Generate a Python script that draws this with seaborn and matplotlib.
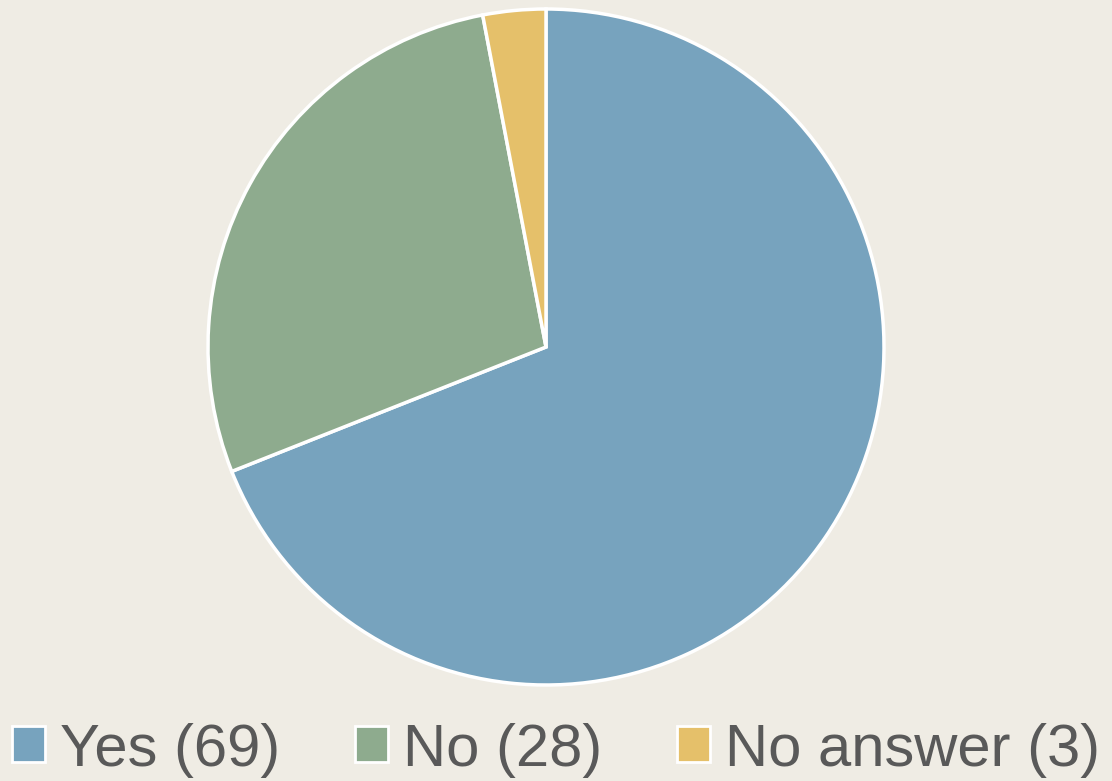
import matplotlib
matplotlib.use("Agg")
import matplotlib.pyplot as plt
from matplotlib.patches import Patch
import seaborn as sns

labels = ["Yes", "No", "No answer"]
counts = [69, 28, 3]
colors = ["#77a3be", "#8eab8e", "#e5c06a"]
bg = "#efece4"

sns.set_theme(style="white")
plt.rcParams['font.family'] = ['Liberation Sans', 'DejaVu Sans']

fig = plt.figure(figsize=(11.12, 7.81), dpi=100, facecolor=bg)
ax = fig.add_axes([(546 - 338) / 1112, (781 - 347 - 338) / 781, 676 / 1112, 676 / 781])
ax.set_facecolor(bg)

ax.pie(counts, colors=colors, startangle=90, counterclock=False,
       wedgeprops=dict(edgecolor="white", linewidth=2.5))
ax.set_xlim(-1, 1)
ax.set_ylim(-1, 1)
ax.set_aspect("equal")

handles = [Patch(facecolor=c, edgecolor="white", linewidth=2) for c in colors]
leg_labels = [f"{l} ({n})" for l, n in zip(labels, counts)]
fig.legend(handles, leg_labels, loc="center", bbox_to_anchor=(0.5, 1 - 750 / 781),
           ncol=3, frameon=False, fontsize=43, labelcolor="#595959",
           handlelength=0.55, handleheight=0.55, handletextpad=0.25,
           columnspacing=1.25, borderaxespad=0, borderpad=0)

fig.savefig("out.png", dpi=100, facecolor=bg)
